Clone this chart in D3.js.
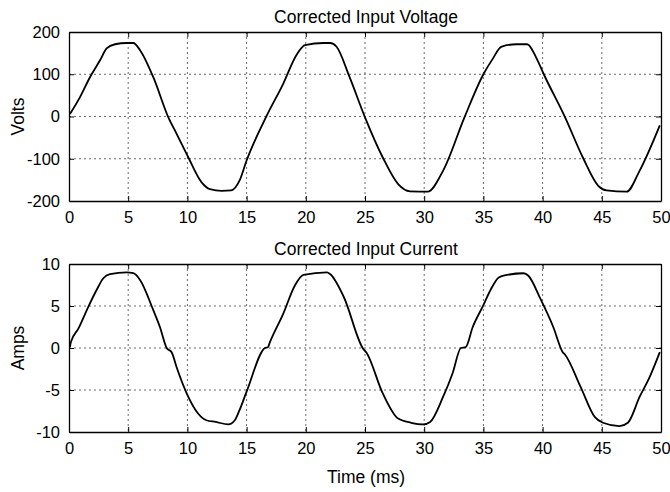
<!DOCTYPE html>
<html>
<head>
<meta charset="utf-8">
<script src="https://cdn.jsdelivr.net/npm/d3@7"></script>
<style>
  body { margin: 0; background: #fff; }
  svg { font-family: "Liberation Sans", Arial, sans-serif; }
  .grid line { stroke: #444; stroke-dasharray: 2,3; stroke-width: 0.8; }
</style>
</head>
<body>
<div id="chart"></div>
<script>
// time (ms) and voltage samples
var voltTime = [0.08, 0.93, 1.77, 2.62, 3.18, 3.89, 4.87, 5.43, 6.0, 7.12, 8.39, 9.09, 10.08, 11.2, 11.9, 12.9, 13.7, 14.4,
  15.0, 16.7, 18.1, 19.2, 19.93, 21.5, 22.05, 22.6, 23.7, 25.0, 26.5, 27.8, 28.8, 30.3, 31.6, 33.4,
  35.0, 35.8, 36.5, 37.8, 38.7, 39.5, 40.1, 41.9, 43.4, 44.7, 45.4, 47.1, 48.2, 49.9];
var volts = [6, 46, 93, 133, 161, 171, 174, 174, 157, 93, -2, -41, -97, -156, -172, -176, -175, -152,
  -104, 2, 78, 145, 169, 174, 174, 165, 93, -2, -97, -160, -177, -178, -128, -2,
  100, 137, 165, 171, 171, 137, 100, -2, -97, -164, -175, -178, -128, -21];

// time (ms) and current samples
var ampTime = [0.08, 0.16, 0.79, 1.63, 2.33, 2.9, 3.46, 4.87, 5.43, 6.0, 7.12, 7.68, 8.25, 8.67, 9.09, 9.94, 10.9, 11.6, 12.4, 13.45, 14.0, 14.4,
  15.0, 16.55, 16.8, 16.97, 18.1, 19.1, 19.8, 21.8, 22.05, 23.2, 24.85, 25.1, 26.5, 27.8, 28.9, 29.9, 30.5, 31.6, 32.4, 33.1, 33.5,
  34.1, 35.0, 35.6, 36.3, 37.0, 38.4, 38.8, 39.8, 40.9, 41.7, 41.9, 43.2, 44.4, 45.1, 46.5, 47.2, 48.2, 49.0, 49.9];
var amps = [0.1, 0.7, 2.3, 4.9, 6.9, 8.3, 8.8, 9.0, 8.9, 8.1, 4.5, 2.5, 0, -0.5, -2.3, -5.4, -7.8, -8.6, -8.8, -9.1, -8.6, -7.4,
  -5.2, 0, 0.1, 0.7, 4.1, 7.5, 8.7, 9.0, 8.8, 6.1, -0.1, -0.5, -5.4, -8.4, -8.9, -9.1, -8.8, -5.8, -3.0, 0, 0.1,
  2.5, 5.1, 6.9, 8.4, 8.7, 8.9, 8.6, 5.9, 2.5, -0.5, -0.8, -4.6, -8.2, -8.9, -9.3, -8.9, -5.8, -3.6, -0.5];

var xTicks = [0, 5, 10, 15, 20, 25, 30, 35, 40, 45, 50];
var voltTicks = [-200, -100, 0, 100, 200];
var ampTicks = [-10, -5, 0, 5, 10];

var width = 670, height = 492;
var svg = d3.select("#chart").append("svg").attr("width", width).attr("height", height);

var x = d3.scaleLinear().domain([0, 50]).range([69, 661]);
var plain = d => String(d);   // hyphen minus like the original

function drawPanel(top, bottom, yDomain, yTicks, tx, ty, title, ylabel) {
  var y = d3.scaleLinear().domain(yDomain).range([bottom, top]);
  var g = svg.append("g");

  // dashed grid
  var grid = g.append("g").attr("class", "grid");
  grid.selectAll(".vx").data(xTicks.slice(1, -1)).enter().append("line")
    .attr("x1", d => x(d)).attr("x2", d => x(d)).attr("y1", top).attr("y2", bottom);
  grid.selectAll(".hy").data(yTicks.slice(1, -1)).enter().append("line")
    .attr("x1", x(0)).attr("x2", x(50)).attr("y1", d => y(d)).attr("y2", d => y(d));

  // axes with inward ticks, all four sides
  g.append("g").attr("transform", "translate(0," + bottom + ")")
    .call(d3.axisBottom(x).tickValues(xTicks).tickFormat(plain).tickSizeInner(-5).tickSizeOuter(0).tickPadding(10));
  g.append("g").attr("transform", "translate(0," + top + ")")
    .call(d3.axisTop(x).tickValues(xTicks).tickSizeInner(-5).tickSizeOuter(0).tickFormat(""));
  g.append("g").attr("transform", "translate(" + x(0) + ",0)")
    .call(d3.axisLeft(y).tickValues(yTicks).tickFormat(plain).tickSizeInner(-5).tickSizeOuter(0).tickPadding(9));
  g.append("g").attr("transform", "translate(" + x(50) + ",0)")
    .call(d3.axisRight(y).tickValues(yTicks).tickSizeInner(-5).tickSizeOuter(0).tickFormat(""));

  g.selectAll(".domain").attr("stroke", "#000").attr("stroke-width", 1.3);
  g.selectAll(".tick line").attr("stroke", "#000");
  g.selectAll(".tick text").attr("font-size", 16.5).attr("fill", "#000")
    .attr("font-family", "'Liberation Sans', Arial, sans-serif");

  var line = d3.line().x((d, i) => x(tx[i])).y(d => y(d)).curve(d3.curveMonotoneX);
  g.append("path").datum(ty).attr("d", line)
    .attr("fill", "none").attr("stroke", "#000").attr("stroke-width", 1.8)
    .attr("stroke-linejoin", "round");

  g.append("text").attr("x", (x(0) + x(50)) / 2 + 1).attr("y", top - 9)
    .attr("text-anchor", "middle").attr("font-size", 17.5).text(title);
  g.append("text")
    .attr("transform", "translate(24," + (top + bottom) / 2 + ") rotate(-90)")
    .attr("text-anchor", "middle").attr("font-size", 17.5).text(ylabel);
}

drawPanel(32, 201, [-200, 200], voltTicks, voltTime, volts, "Corrected Input Voltage", "Volts");
drawPanel(264, 432, [-10, 10], ampTicks, ampTime, amps, "Corrected Input Current", "Amps");

svg.append("text").attr("x", (x(0) + x(50)) / 2 + 1).attr("y", 483)
  .attr("text-anchor", "middle").attr("font-size", 17.5).text("Time (ms)");
</script>
</body>
</html>
